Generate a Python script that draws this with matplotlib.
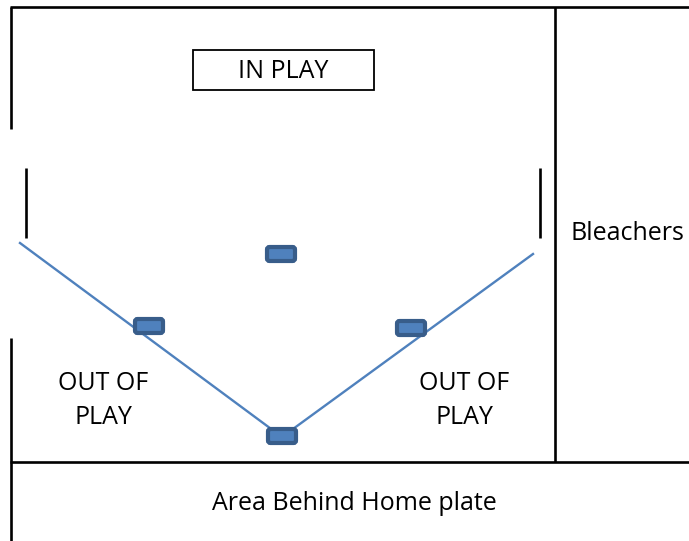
import matplotlib.pyplot as plt
from matplotlib.patches import FancyBboxPatch, Rectangle

# ── Data (pixel coordinates of the field sketch) ─────────────────────────────
FOUL_X = [20, 282, 533]
FOUL_Y = [243, 437, 254]

BASE_X = [149, 282, 411, 281]
BASE_Y = [326, 436, 328, 254]

WALLS = [
    # (x0, y0, x1, y1)
    (10, 7, 689, 7),
    (11, 7, 11, 129),
    (11, 338, 11, 541),
    (10, 462, 689, 462),
    (555, 7, 555, 462),
    (26, 168, 26, 238),
    (540, 168, 540, 238),
]

LABELS = [
    ("IN PLAY", 283, 72),
    ("OUT OF", 103, 383),
    ("PLAY", 103, 417),
    ("OUT OF", 464, 383),
    ("PLAY", 464, 417),
    ("Bleachers", 627, 234),
    ("Area Behind Home plate", 354, 503),
]
# ─────────────────────────────────────────────────────────────────────────────

W, H = 689, 541
fig = plt.figure(figsize=(W / 100, H / 100), dpi=100)
ax = fig.add_axes([0, 0, 1, 1])
ax.set_xlim(0, W)
ax.set_ylim(H, 0)
ax.axis("off")

for x0, y0, x1, y1 in WALLS:
    ax.plot([x0, x1], [y0, y1], color="black", lw=1.9, solid_capstyle="butt")

# in-play box
ax.add_patch(Rectangle((193, 50), 181, 40, fill=False, ec="black", lw=1.3))

# foul lines
ax.plot(FOUL_X, FOUL_Y, color="#4F81BD", lw=1.7, zorder=2)

# bases
bw, bh = 28, 14
for bx, by in zip(BASE_X, BASE_Y):
    ax.add_patch(FancyBboxPatch((bx - bw / 2, by - bh / 2), bw, bh,
                                boxstyle="round,pad=0,rounding_size=2.5",
                                fc="#4F81BD", ec="#385D8A", lw=3, zorder=3))

for text, x, y in LABELS:
    ax.text(x, y, text, ha="center", va="center", fontsize=18,
            family="Open Sans", color="black")

fig.savefig("out.png", dpi=100)
